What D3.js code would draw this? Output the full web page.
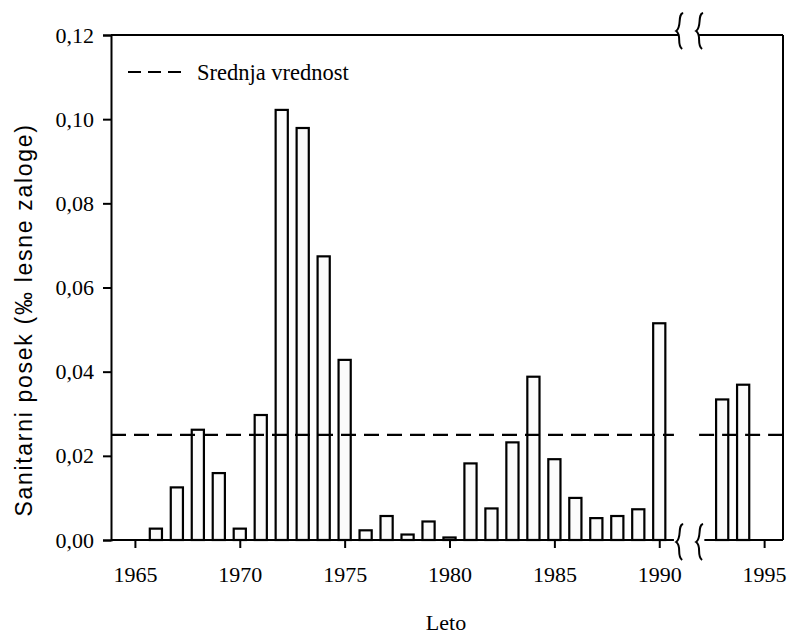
<!DOCTYPE html>
<html>
<head>
<meta charset="utf-8">
<script src="https://cdn.jsdelivr.net/npm/d3@7"></script>
<style>
  body { margin: 0; background: #fff; }
  svg { display: block; }
</style>
</head>
<body>
<svg width="789" height="635"></svg>
<script>
const years = [1966, 1967, 1968, 1969, 1970, 1971, 1972, 1973, 1974, 1975,
               1976, 1977, 1978, 1979, 1980, 1981, 1982, 1983, 1984, 1985,
               1986, 1987, 1988, 1989, 1990, 1993, 1994];
const values = [0.0027, 0.0125, 0.0262, 0.0159, 0.0027, 0.0297, 0.1022, 0.0979, 0.0674, 0.0428,
                0.0023, 0.0057, 0.0013, 0.0044, 0.0006, 0.0182, 0.0075, 0.0232, 0.0388, 0.0192,
                0.0100, 0.0052, 0.0057, 0.0073, 0.0515, 0.0334, 0.0369];
const meanValue = 0.025;
const xTicks = [1965, 1970, 1975, 1980, 1985, 1990, 1995];
const yTicks = [0, 0.02, 0.04, 0.06, 0.08, 0.10, 0.12];
const legendLabel = 'Srednja vrednost';
const xTitle = 'Leto';
const yTitle = 'Sanitarni posek (‰ lesne zaloge)';

const data = years.map((y, i) => ({ year: y, value: values[i] }));

const serif = '"Liberation Serif", "Times New Roman", serif';
const sans = '"Liberation Sans", Arial, sans-serif';

const svg = d3.select('svg');
const width = +svg.attr('width');
const height = +svg.attr('height');

const margin = { top: 35, right: 6, bottom: 95, left: 111 };
const innerWidth = width - margin.left - margin.right;
const innerHeight = height - margin.top - margin.bottom;

const xScale = d3.scaleLinear()
    .domain([1963.86, 1995.9])
    .range([0, innerWidth]);

const yScale = d3.scaleLinear()
    .domain([0, 0.12])
    .range([innerHeight, 0]);

// axis break between 1990 and 1993
const breakFrom = 1990.7, breakTo = 1992.15;
const markA = 1990.95, markB = 1991.9;

const comma = d3.formatLocale({ decimal: ',', thousands: '.', grouping: [3], currency: ['', ''] });

const g = svg.append('g')
    .attr('transform', `translate(${margin.left}, ${margin.top})`);

// bars
const barW = (xScale(1) - xScale(0)) * 0.58;
g.selectAll('rect.bar').data(data)
  .enter().append('rect')
    .attr('class', 'bar')
    .attr('x', d => xScale(d.year) - barW / 2)
    .attr('y', d => yScale(d.value))
    .attr('width', barW)
    .attr('height', d => innerHeight - yScale(d.value))
    .attr('fill', '#fbfbfb')
    .attr('stroke', '#000')
    .attr('stroke-width', 2.2);

// mean line (broken)
[[xScale.domain()[0], breakFrom], [markB, xScale.domain()[1]]].forEach(([a, b]) => {
  g.append('line')
    .attr('x1', xScale(a)).attr('x2', xScale(b))
    .attr('y1', yScale(meanValue)).attr('y2', yScale(meanValue))
    .attr('stroke', '#000')
    .attr('stroke-width', 2.2)
    .attr('stroke-dasharray', '15,8');
});

// y axis
const yAxisG = g.append('g')
    .call(d3.axisLeft(yScale)
      .tickValues(yTicks)
      .tickFormat(comma.format('.2f'))
      .tickSize(8)
      .tickPadding(9))
    .attr('font-family', serif)
    .attr('font-size', 22);
yAxisG.select('.domain').attr('stroke-width', 2);
yAxisG.selectAll('.tick line').attr('stroke-width', 2);

// x axis, domain drawn by hand for the break
const xAxisG = g.append('g')
    .attr('transform', `translate(0, ${innerHeight})`)
    .call(d3.axisBottom(xScale)
      .tickValues(xTicks)
      .tickFormat(d3.format('d'))
      .tickSize(8))
    .attr('font-family', serif)
    .attr('font-size', 22);
xAxisG.select('.domain').remove();
xAxisG.selectAll('.tick line').attr('stroke-width', 2);
xAxisG.selectAll('.tick text').attr('y', 42).attr('dy', null);

const frame = g.append('g')
    .attr('fill', 'none')
    .attr('stroke', '#000')
    .attr('stroke-width', 2);

// bottom and top borders with gap
[innerHeight, 0].forEach(yy => {
  const gapA = yy === 0 ? markA : breakFrom;
  const gapB = yy === 0 ? markB : breakTo;
  frame.append('line')
    .attr('x1', 0).attr('x2', xScale(gapA))
    .attr('y1', yy).attr('y2', yy);
  frame.append('line')
    .attr('x1', xScale(gapB)).attr('x2', innerWidth)
    .attr('y1', yy).attr('y2', yy);
});
// right border
frame.append('line')
    .attr('x1', innerWidth).attr('x2', innerWidth)
    .attr('y1', 0).attr('y2', innerHeight);

// break marks
const brace = (x, y) =>
  `M${x + 4},${y - 18} C${x - 2},${y - 17} ${x + 3},${y - 4} ${x - 3},${y} ` +
  `C${x + 3},${y + 4} ${x - 3},${y + 14} ${x + 3},${y + 18}`;
[markA, markB].forEach(m => {
  frame.append('path').attr('d', brace(xScale(m), innerHeight + 2));
  frame.append('path').attr('d', brace(xScale(m), -4));
});

// legend
g.append('line')
    .attr('x1', 17).attr('x2', 71)
    .attr('y1', 37).attr('y2', 37)
    .attr('stroke', '#000')
    .attr('stroke-width', 2.2)
    .attr('stroke-dasharray', '13,7');
g.append('text')
    .attr('x', 86)
    .attr('y', 45)
    .attr('font-family', serif)
    .attr('font-size', 22.5)
    .text(legendLabel);

// axis titles
svg.append('text')
    .attr('text-anchor', 'middle')
    .attr('font-family', serif)
    .attr('font-size', 22)
    .attr('x', 446)
    .attr('y', 630)
    .text(xTitle);

svg.append('text')
    .attr('text-anchor', 'middle')
    .attr('font-family', sans)
    .attr('font-size', 23)
    .attr('letter-spacing', '1.7px')
    .attr('transform', 'translate(32, 320) rotate(-90)')
    .text(yTitle);
</script>
</body>
</html>
